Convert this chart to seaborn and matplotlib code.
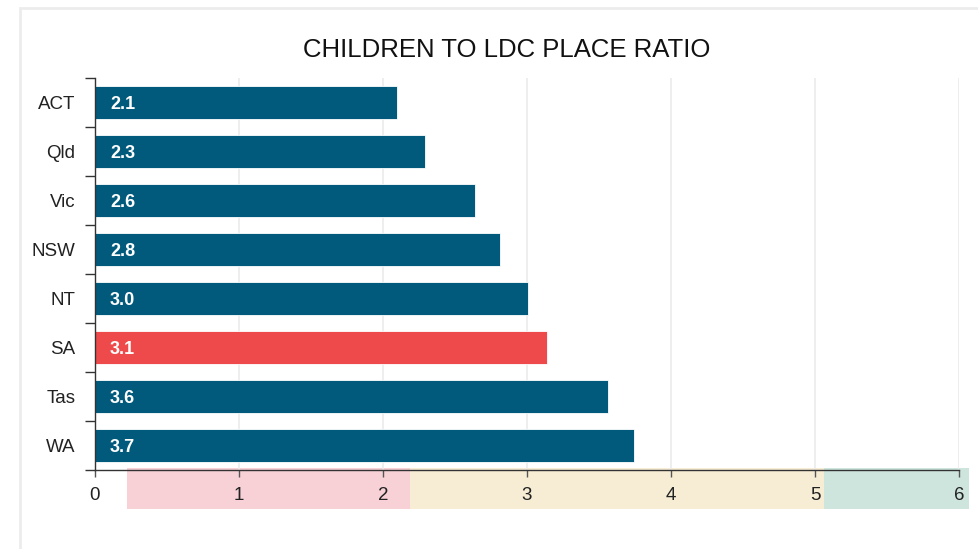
import matplotlib
matplotlib.use("Agg")
import matplotlib.pyplot as plt
import matplotlib.transforms as mtransforms
from matplotlib.patches import Rectangle
import seaborn as sns
import pandas as pd

# ---- data ----
states = ["ACT", "Qld", "Vic", "NSW", "NT", "SA", "Tas", "WA"]
ratios = [2.10, 2.29, 2.64, 2.81, 3.01, 3.14, 3.56, 3.74]
highlight = "SA"
x_ticks = [0, 1, 2, 3, 4, 5, 6]
band_starts = [0.22, 2.19, 5.06]
band_ends = [2.19, 5.06, 6.07]
band_colors = ["#f7d1d6", "#f7edd4", "#cee5dd"]
title = "CHILDREN TO LDC PLACE RATIO"

BLUE = "#015a7c"
RED = "#ef4a4b"

sns.set_theme(style="white")
plt.rcParams["font.family"] = ["Liberation Sans", "DejaVu Sans"]

df = pd.DataFrame({"state": states, "ratio": ratios})
palette = {s: (RED if s == highlight else BLUE) for s in states}

W, H = 979, 549
fig = plt.figure(figsize=(W / 100, H / 100), dpi=100)
ax = fig.add_axes([95 / W, (H - 470) / H, (959 - 95) / W, (470 - 78) / H])

sns.barplot(data=df, x="ratio", y="state", hue="state", palette=palette,
            order=states, width=0.66, legend=False, ax=ax,
            edgecolor="white", linewidth=0.6, saturation=1, zorder=3)

ax.set_xlim(0, 6)
ax.set_ylim(len(states) - 0.5, -0.5)
ax.set_xlabel("")
ax.set_ylabel("")

# vertical gridlines
for xv in x_ticks[1:]:
    ax.axvline(xv, color="#ebebeb", lw=1.2, zorder=1)

# spines
for s in ["top", "right"]:
    ax.spines[s].set_visible(False)
for s in ["left", "bottom"]:
    ax.spines[s].set_color("#333333")
    ax.spines[s].set_linewidth(1.0)
    ax.spines[s].set_zorder(5)

# ticks
ax.set_xticks(x_ticks)
ax.set_xticklabels([str(t) for t in x_ticks])
ax.tick_params(axis="x", direction="out", length=5, width=1, color="#555555",
               labelsize=13.5, labelcolor="#222222", pad=7, bottom=True)
ax.set_yticks(range(len(states)))
ax.set_yticklabels(states)
ax.set_yticks([i - 0.5 for i in range(len(states) + 1)], minor=True)
ax.tick_params(axis="y", which="major", length=0, labelsize=13.5,
               labelcolor="#222222", pad=14)
ax.tick_params(axis="y", which="minor", direction="out", length=7, width=1,
               color="#333333", left=True)

# value labels
for i, v in enumerate(ratios):
    ax.text(0.105, i, f"{v:.1f}", color="white", fontsize=13, fontweight="bold",
            va="center_baseline", ha="left", zorder=6)

# bands under the axis
trans = mtransforms.blended_transform_factory(ax.transData, ax.transAxes)
for x0, x1, c in zip(band_starts, band_ends, band_colors):
    ax.add_patch(Rectangle((x0, -0.1), x1 - x0, 0.105, transform=trans,
                           facecolor=c, edgecolor="none", clip_on=False, zorder=0))

# title
fig.text(507 / W, 1 - 50 / H, title, ha="center", va="center",
         fontsize=18.5, color="#111111")

# light frame
fig.patches.append(Rectangle((19.5 / W, -0.1), 1.2, (H - 7.5) / H + 0.1,
                             transform=fig.transFigure, fill=False,
                             edgecolor="#ececec", lw=2))

fig.savefig("out.png", dpi=100)
